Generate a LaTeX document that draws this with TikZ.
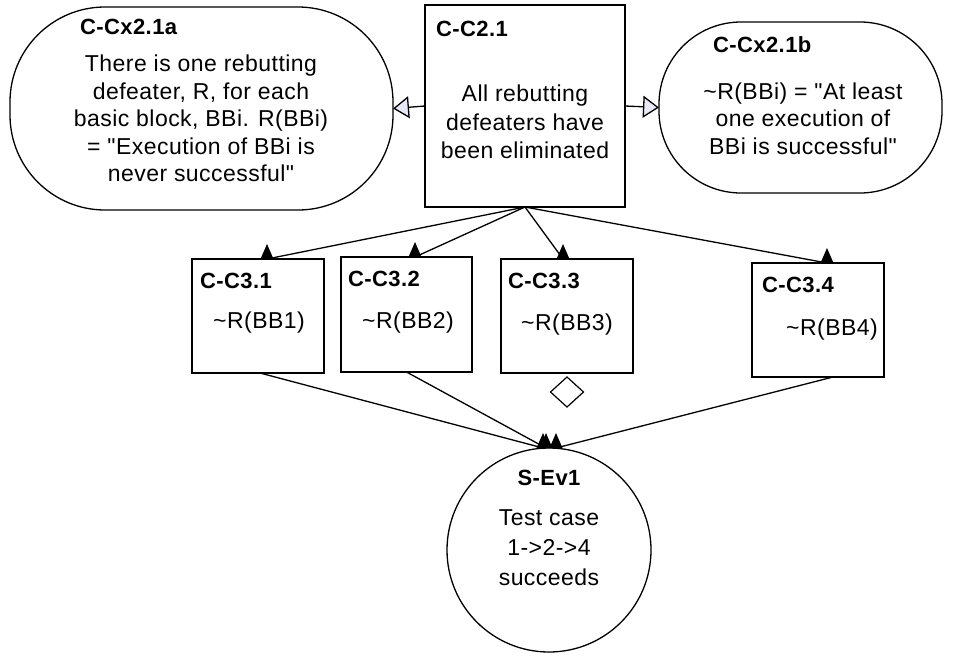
\documentclass[tikz,border=0pt]{standalone}
\usepackage{fontspec}
\setmainfont{Liberation Sans}
\newfontfamily\bodyfont[LetterSpace=2]{Liberation Sans}
\usetikzlibrary{arrows.meta,shapes.geometric}

\definecolor{ctxfill}{RGB}{232,232,246}

\begin{document}
\begin{tikzpicture}[x=1pt,y=-1pt,
  every node/.style={inner sep=0pt, outer sep=0pt},
  goalbox/.style={draw, line width=1.3pt, rectangle},
  ctxbox/.style={draw, line width=1.3pt, rectangle},
  solbox/.style={draw, line width=1.3pt, circle},
  ttl/.style={font=\bodyfont\fontsize{22}{24}\selectfont\bfseries, anchor=west},
  body/.style={font=\bodyfont\fontsize{23}{28.3}\selectfont, align=center},
  supline/.style={line width=1.3pt},
  ctxline/.style={line width=1.3pt, -{Triangle[length=16pt,width=22pt,fill=ctxfill]}},
  tipup/.pic={\fill (-6.5,0) -- (6.5,0) -- (0,-15) -- cycle;}
]
\useasboundingbox (0,0) rectangle (977,656);

% goal and its two contexts
\node[goalbox, minimum width=200pt, minimum height=202pt] (c21) at (525,106) {};
\node[ctxbox, rounded corners=95pt, minimum width=383pt, minimum height=203pt] (cxa) at (201.5,108.5) {};
\node[ctxbox, rounded corners=82pt, minimum width=283pt, minimum height=171pt] (cxb) at (800.5,107.5) {};

\node[ttl] (c21t) at (436,29) {C-C2.1};
\node[body] (c21b) at (525,122) {All rebutting\\defeaters have\\been eliminated};

\node[ttl] (cxat) at (80,27) {C-Cx2.1a};
\node[body, font=\bodyfont\fontsize{23}{27.4}\selectfont] (cxab) at (201,118.5)
  {There is one rebutting\\defeater, R, for each\\basic block, BBi. R(BBi)\\= "Execution of BBi is\\never successful"};

\node[ttl] (cxbt) at (713,45) {C-Cx2.1b};
\node[body, font=\bodyfont\fontsize{23}{27.5}\selectfont] (cxbb) at (803,118.5)
  {\textasciitilde R(BBi) = "At least\\one execution of\\BBi is successful"};

\draw[ctxline] (c21.west) -- (cxa.east);
\draw[ctxline] (c21.east) -- (cxb.west);

% sub-claims
\node[goalbox, minimum width=132pt, minimum height=114pt] (c31) at (258,316) {};
\node[goalbox, minimum width=131pt, minimum height=115pt] (c32) at (406.5,314.5) {};
\node[goalbox, minimum width=132pt, minimum height=114pt] (c33) at (567,316) {};
\node[goalbox, minimum width=132pt, minimum height=114pt] (c34) at (818,320) {};

\node[ttl] (c31t) at (200,281) {C-C3.1};
\node[ttl] (c32t) at (348,279) {C-C3.2};
\node[ttl] (c33t) at (508,281) {C-C3.3};
\node[ttl] (c34t) at (762,285) {C-C3.4};

\node[body] (c31b) at (259,323) {\textasciitilde R(BB1)};
\node[body] (c32b) at (408,323) {\textasciitilde R(BB2)};
\node[body] (c33b) at (567,325) {\textasciitilde R(BB3)};
\node[body] (c34b) at (832,330) {\textasciitilde R(BB4)};

% undeveloped marker under C-C3.3
\node[draw, line width=1.2pt, diamond, minimum width=33pt, minimum height=30pt] (c33u) at (567,392) {};

% solution
\node[solbox, minimum size=204pt] (sev) at (549,550) {};
\node[font=\bodyfont\fontsize{22}{24}\selectfont\bfseries] (sevt) at (549,478) {S-Ev1};
\node[body, font=\bodyfont\fontsize{23}{30}\selectfont] (sevb) at (549,548) {Test case\\1->2->4\\succeeds};

% supported-by connectors
\coordinate (t31) at ([xshift=9pt]c31.north);
\coordinate (t32) at ([xshift=8.5pt]c32.north);
\coordinate (t33) at ([xshift=-4pt]c33.north);
\coordinate (t34) at ([xshift=9pt]c34.north);
\foreach \t in {t31,t32,t33,t34} {
  \draw[supline] (c21.south) -- (\t);
  \pic at (\t) {tipup};
}

\coordinate (s31) at ([xshift=2pt]c31.south);
\coordinate (s34) at ([xshift=15pt]c34.south);
\coordinate (e31) at ([xshift=-6pt]sev.north);
\coordinate (e32) at ([xshift=-3pt]sev.north);
\coordinate (e34) at ([xshift=7pt]sev.north);
\draw[supline] (s31) -- (e31);
\draw[supline] (c32.south) -- (e32);
\draw[supline] (s34) -- (e34);
\pic at (e31) {tipup};
\pic at (e32) {tipup};
\pic at (e34) {tipup};
\end{tikzpicture}
\end{document}
